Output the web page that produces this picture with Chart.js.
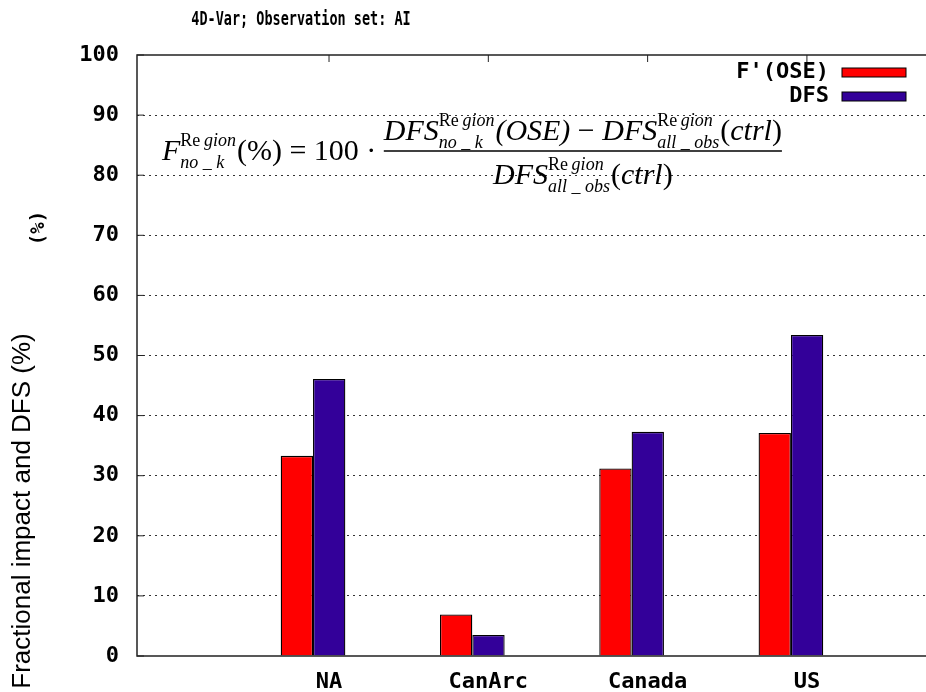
<!DOCTYPE html>
<html>
<head>
<meta charset="utf-8">
<title>4D-Var; Observation set: AI</title>
<script src="https://cdn.jsdelivr.net/npm/chart.js@4"></script>
<style>
  html, body { margin: 0; padding: 0; background: #fff; overflow: hidden; }
</style>
</head>
<body>
<canvas id="chartAI" width="926" height="692"></canvas>
<script>
const regions = ["NA", "CanArc", "Canada", "US"];
const fOse = [33.3, 6.9, 31.2, 37.1];
const dfs = [46.1, 3.5, 37.3, 53.4];
const yTicks = [0, 10, 20, 30, 40, 50, 60, 70, 80, 90, 100];
const seriesNames = ["F'(OSE)", "DFS"];
const seriesColors = ["#ff0000", "#330099"];

const chartTitle = "4D-Var; Observation set: AI";
const yTitle = "(%)";
const yTitleOuter = "Fractional impact and DFS (%)";

const monoBold = { family: "'DejaVu Sans Mono'", size: 22, weight: "bold" };
const labelShift = 16; // gnuplot-style: tick labels sit right of the bar pair

/* =========================
  Formula helpers
========================= */
function mathFont(size, italic) {
  return (italic ? "italic " : "") + size + "px 'Liberation Serif'";
}

function put(ctx, x, y, text, size, italic, draw) {
  ctx.font = mathFont(size, italic);
  if (draw) ctx.fillText(text, x, y);
  return ctx.measureText(text).width;
}

// superscript "Region" over a subscript, returns the wider of the two
function scripts(ctx, x, y, sub, size, draw) {
  const up = y - size * 0.78;
  let w1 = put(ctx, x, up, "Re", size, false, draw);
  w1 += size * 0.2;
  w1 += put(ctx, x + w1, up, "gion", size, true, draw);
  const w2 = put(ctx, x, y + size * 0.42, sub, size, true, draw);
  return Math.max(w1, w2) + 1;
}

function term(ctx, x, y, pieces, draw) {
  let cx = x;
  pieces.forEach(p => {
    if (p.sub) cx += scripts(ctx, cx, y, p.sub, 18, draw);
    else cx += put(ctx, cx, y, p.t, 30, !!p.it, draw);
  });
  return cx - x;
}

const lhs = [{ t: "F", it: true }, { sub: "no _ k" }, { t: "(%) = 100 \u00b7 " }];
const numer = [
  { t: "DFS", it: true }, { sub: "no _ k" }, { t: "(OSE)", it: true }, { t: " \u2212 " },
  { t: "DFS", it: true }, { sub: "all _ obs" }, { t: "(" }, { t: "ctrl", it: true }, { t: ")" }
];
const denom = [{ t: "DFS", it: true }, { sub: "all _ obs" }, { t: "(" }, { t: "ctrl", it: true }, { t: ")" }];

/* =========================
  Plugin: frame, legend, formula, titles
========================= */
const decorations = {
  id: "decorations",
  afterDraw(chart) {
    const { ctx, chartArea: a, scales } = chart;
    ctx.save();

    // frame (left, top, bottom)
    ctx.strokeStyle = "#222";
    ctx.lineWidth = 1.5;
    ctx.beginPath();
    ctx.moveTo(a.right, a.top);
    ctx.lineTo(a.left, a.top);
    ctx.lineTo(a.left, a.bottom);
    ctx.lineTo(a.right, a.bottom);
    ctx.stroke();

    // inward tick marks
    ctx.lineWidth = 1;
    ctx.beginPath();
    yTicks.forEach(v => {
      const y = scales.y.getPixelForValue(v);
      ctx.moveTo(a.left, y);
      ctx.lineTo(a.left + 7, y);
    });
    scales.x.ticks.forEach(t => {
      const x = scales.x.getPixelForValue(t.value) + labelShift;
      ctx.moveTo(x, a.top);
      ctx.lineTo(x, a.top + 7);
    });
    ctx.stroke();

    // legend
    ctx.font = `${monoBold.weight} ${monoBold.size}px ${monoBold.family}`;
    ctx.textAlign = "right";
    ctx.textBaseline = "middle";
    ctx.fillStyle = "#000";
    seriesNames.forEach((name, i) => {
      const y = 72.5 + i * 24;
      ctx.fillText(name, 829, y);
      ctx.fillStyle = seriesColors[i];
      ctx.fillRect(842, y - 4.5, 64, 9);
      ctx.strokeStyle = "#000";
      ctx.strokeRect(842, y - 4.5, 64, 9);
      ctx.fillStyle = "#000";
    });

    // formula
    ctx.textAlign = "left";
    ctx.textBaseline = "alphabetic";
    const x0 = 162;
    const fx = x0 + term(ctx, x0, 160, lhs, true);
    const nw = term(ctx, fx, 140, numer, true);
    const dw = term(ctx, 0, 0, denom, false);
    term(ctx, fx + (nw - dw) / 2, 184, denom, true);
    ctx.strokeStyle = "#000";
    ctx.lineWidth = 1.3;
    ctx.beginPath();
    ctx.moveTo(fx, 151);
    ctx.lineTo(fx + nw, 151);
    ctx.stroke();

    // title
    ctx.save();
    ctx.translate(301, 20);
    ctx.scale(1, 1.4);
    ctx.font = "bold 13.5px 'DejaVu Sans Mono'";
    ctx.textAlign = "center";
    ctx.textBaseline = "middle";
    ctx.fillText(chartTitle, 0, 0);
    ctx.restore();

    // y titles
    ctx.textAlign = "center";
    ctx.textBaseline = "middle";
    ctx.save();
    ctx.translate(39, 228);
    ctx.rotate(-Math.PI / 2);
    ctx.font = "bold 19px 'DejaVu Sans Mono'";
    ctx.fillText(yTitle, 0, 0);
    ctx.restore();

    ctx.save();
    ctx.translate(23, 511);
    ctx.rotate(-Math.PI / 2);
    ctx.font = "26px 'Liberation Sans'";
    ctx.fillText(yTitleOuter, 0, 0);
    ctx.restore();

    ctx.restore();
  }
};

/* =========================
  Chart
========================= */
function seriesData(values) {
  return regions.map((r, i) => ({ x: i + 1, y: values[i] }));
}

new Chart(document.getElementById("chartAI"), {
  type: "bar",
  data: {
    datasets: [fOse, dfs].map((values, i) => ({
      label: seriesNames[i],
      data: seriesData(values),
      backgroundColor: seriesColors[i],
      borderColor: "#000",
      borderWidth: 1.3,
      categoryPercentage: 0.406,
      barPercentage: 1
    }))
  },
  options: {
    responsive: false,
    animation: false,
    layout: { padding: { top: 55, left: 0, right: 0, bottom: 0 } },
    plugins: {
      legend: { display: false },
      title: { display: false },
      tooltip: { enabled: false }
    },
    scales: {
      x: {
        type: "linear",
        min: -0.105,
        max: 4.848,
        offset: false,
        grid: { display: false, drawTicks: false, offset: false },
        border: { display: false },
        afterBuildTicks: s => { s.ticks = regions.map((r, i) => ({ value: i + 1 })); },
        afterFit: s => { s.height = 36; },
        ticks: {
          autoSkip: false,
          maxRotation: 0,
          labelOffset: labelShift,
          padding: 13,
          color: "#000",
          font: monoBold,
          callback: v => regions[v - 1] || ""
        }
      },
      y: {
        min: 0,
        max: 100,
        afterBuildTicks: s => { s.ticks = yTicks.map(v => ({ value: v })); },
        afterFit: s => { s.width = 137; },
        grid: {
          drawTicks: false,
          lineWidth: 1,
          color: c => (c.tick && (c.tick.value === 0 || c.tick.value === 100)) ? "rgba(0,0,0,0)" : "#333"
        },
        border: { display: false, dash: [2, 4] },
        ticks: { padding: 18, color: "#000", font: monoBold }
      }
    }
  },
  plugins: [decorations]
});
</script>
</body>
</html>
